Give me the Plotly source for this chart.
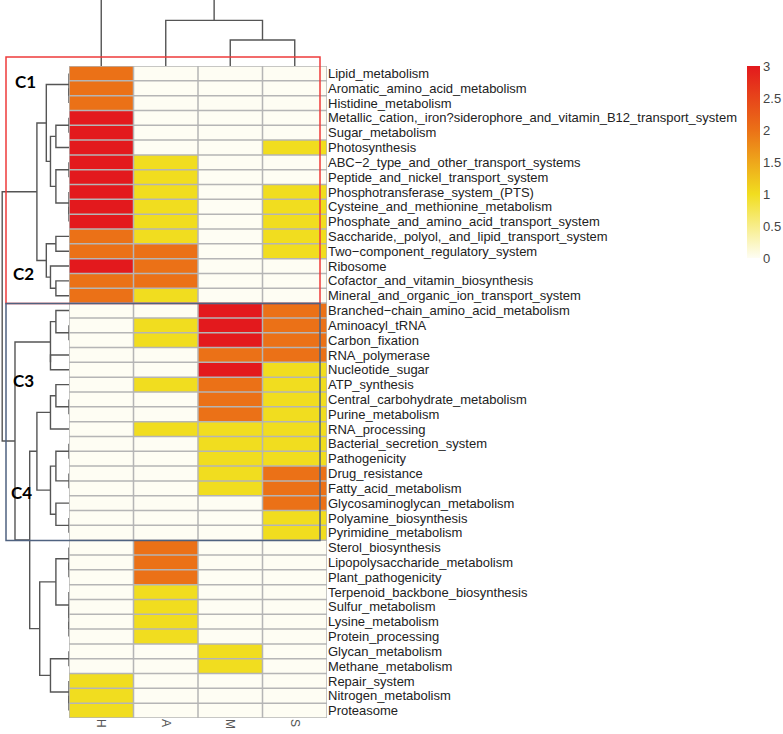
import numpy as np
import plotly.graph_objects as go

# ---------------- data ----------------
columns = ["H", "A", "M", "S"]
pathways = [
    "Lipid_metabolism", "Aromatic_amino_acid_metabolism", "Histidine_metabolism",
    "Metallic_cation,_iron?siderophore_and_vitamin_B12_transport_system",
    "Sugar_metabolism", "Photosynthesis", "ABC\u22122_type_and_other_transport_systems",
    "Peptide_and_nickel_transport_system", "Phosphotransferase_system_(PTS)",
    "Cysteine_and_methionine_metabolism", "Phosphate_and_amino_acid_transport_system",
    "Saccharide,_polyol,_and_lipid_transport_system", "Two\u2212component_regulatory_system",
    "Ribosome", "Cofactor_and_vitamin_biosynthesis", "Mineral_and_organic_ion_transport_system",
    "Branched\u2212chain_amino_acid_metabolism", "Aminoacyl_tRNA", "Carbon_fixation",
    "RNA_polymerase", "Nucleotide_sugar", "ATP_synthesis", "Central_carbohydrate_metabolism",
    "Purine_metabolism", "RNA_processing", "Bacterial_secretion_system", "Pathogenicity",
    "Drug_resistance", "Fatty_acid_metabolism", "Glycosaminoglycan_metabolism",
    "Polyamine_biosynthesis", "Pyrimidine_metabolism", "Sterol_biosynthesis",
    "Lipopolysaccharide_metabolism", "Plant_pathogenicity", "Terpenoid_backbone_biosynthesis",
    "Sulfur_metabolism", "Lysine_metabolism", "Protein_processing", "Glycan_metabolism",
    "Methane_metabolism", "Repair_system", "Nitrogen_metabolism", "Proteasome",
]
H = [2, 2, 2, 3, 3, 3, 3, 3, 3, 3, 3, 2, 2, 3, 2, 2,
     0, 0, 0, 0, 0, 0, 0, 0, 0, 0, 0, 0, 0, 0, 0, 0,
     0, 0, 0, 0, 0, 0, 0, 0, 0, 1, 1, 1]
A = [0, 0, 0, 0, 0, 0, 1, 1, 1, 1, 1, 1, 2, 2, 2, 1,
     0, 1, 1, 0, 0, 1, 0, 0, 1, 0, 0, 0, 0, 0, 0, 0,
     2, 2, 2, 1, 1, 1, 1, 0, 0, 0, 0, 0]
M = [0, 0, 0, 0, 0, 0, 0, 0, 0, 0, 0, 0, 0, 0, 0, 0,
     3, 3, 3, 2, 3, 2, 2, 2, 1, 1, 1, 1, 1, 0, 0, 0,
     0, 0, 0, 0, 0, 0, 0, 1, 1, 0, 0, 0]
S = [0, 0, 0, 0, 0, 1, 0, 0, 1, 1, 1, 1, 1, 0, 0, 0,
     2, 2, 2, 2, 1, 1, 1, 1, 1, 1, 1, 2, 2, 2, 1, 1,
     0, 0, 0, 0, 0, 0, 0, 0, 0, 0, 0, 0]
colorbar_ticks = [0, 0.5, 1, 1.5, 2, 2.5, 3]
cluster_labels = ["C1", "C2", "C3", "C4"]

Z = np.array([H, A, M, S], dtype=float).T  # rows x columns
n_rows, n_cols = Z.shape

# ---------------- geometry (pixels) ----------------
W, HGT = 783, 734
hm_left, hm_right, hm_top, hm_bot = 69, 327, 66, 718
def px(x): return x / W
def py(y): return 1 - y / HGT

# ---------------- clustering (complete linkage, euclidean) ----------------
def dendro_segments(X):
    D = np.sqrt(((X[:, None, :] - X[None, :, :]) ** 2).sum(-1))
    cl = [dict(m=[i], pos=float(i), h=0.0) for i in range(len(X))]
    segs = []
    while len(cl) > 1:
        best = None
        for k in range(len(cl) - 1):
            d = D[np.ix_(cl[k]["m"], cl[k + 1]["m"])].max()
            if best is None or d <= best[0] + 1e-9:
                best = (d, k)
        d, k = best
        a, b = cl[k], cl[k + 1]
        segs.append([(a["h"], a["pos"]), (d, a["pos"]), (d, b["pos"]), (b["h"], b["pos"])])
        cl[k:k + 2] = [dict(m=a["m"] + b["m"], pos=(a["pos"] + b["pos"]) / 2, h=d)]
    return segs

row_segs = dendro_segments(Z)
col_segs = dendro_segments(Z.T)

fig = go.Figure()

colorscale = [[0.0, "#FEFDF3"], [1 / 3, "#F1DD1F"], [2 / 3, "#EB7117"], [1.0, "#E3191D"]]
fig.add_trace(go.Heatmap(
    z=Z, x=list(range(n_cols)), y=list(range(n_rows)), zmin=0, zmax=3,
    colorscale=colorscale, hoverinfo="skip",
    colorbar=dict(
        x=px(747), xanchor="left", y=py(66), yanchor="top",
        len=192, lenmode="pixels", thickness=13, thicknessmode="pixels",
        xpad=0, ypad=0,
        outlinewidth=0, ticks="", tickvals=colorbar_ticks,
        ticktext=[f"{t:g}" for t in colorbar_ticks],
        tickfont=dict(family="Liberation Sans, Arial", size=13, color="#444"),
    ),
))

# grid lines
gx, gy = [], []
for r in range(n_rows + 1):
    gx += [-0.5, n_cols - 0.5, None]; gy += [r - 0.5, r - 0.5, None]
for c in range(n_cols + 1):
    gx += [c - 0.5, c - 0.5, None]; gy += [-0.5, n_rows - 0.5, None]
fig.add_trace(go.Scatter(x=gx, y=gy, mode="lines", line=dict(color="#B5B5B5", width=1.5),
                         hoverinfo="skip", showlegend=False))

# row dendrogram
dx, dy = [], []
for s in row_segs:
    for (h, p) in s:
        dx.append(h); dy.append(p)
    dx.append(None); dy.append(None)
fig.add_trace(go.Scatter(x=dx, y=dy, xaxis="x2", yaxis="y", mode="lines",
                         line=dict(color="#555555", width=1.4), hoverinfo="skip", showlegend=False))

# column dendrogram
cx, cy = [], []
for s in col_segs:
    for (h, p) in s:
        cx.append(p); cy.append(h)
    cx.append(None); cy.append(None)
fig.add_trace(go.Scatter(x=cx, y=cy, xaxis="x", yaxis="y3", mode="lines",
                         line=dict(color="#555555", width=1.4), hoverinfo="skip", showlegend=False))

row_scale = 13.1  # px per distance unit
col_scale = 5.1

fig.update_layout(
    width=W, height=HGT, margin=dict(l=0, r=0, t=0, b=0, autoexpand=False),
    paper_bgcolor="white", plot_bgcolor="white", showlegend=False,
    xaxis=dict(domain=[px(hm_left), px(hm_right)], range=[-0.5, n_cols - 0.5],
               tickvals=list(range(n_cols)), ticktext=columns, tickangle=90,
               showgrid=False, zeroline=False, ticks="", showline=False, automargin=False,
               tickfont=dict(family="Liberation Sans, Arial", size=12, color="#555"),
               anchor="y", fixedrange=True),
    yaxis=dict(domain=[py(hm_bot), py(hm_top)], range=[n_rows - 0.5, -0.5],
               tickvals=list(range(n_rows)), ticktext=pathways, side="right",
               showgrid=False, zeroline=False, ticks="", showline=False, automargin=False,
               tickfont=dict(family="Liberation Sans, Arial", size=13, color="#222"),
               anchor="x", fixedrange=True),
    xaxis2=dict(domain=[0, px(hm_left)], range=[hm_left / row_scale, 0],
                visible=False, anchor="y", fixedrange=True),
    yaxis3=dict(domain=[py(hm_top), 1], range=[0, hm_top / col_scale],
                visible=False, anchor="x", fixedrange=True),
)

# cluster boxes
fig.add_shape(type="rect", xref="paper", yref="paper", x0=px(6), x1=px(320), y0=py(57), y1=py(303.5),
              line=dict(color="#EE3B3B", width=1.5))
fig.add_shape(type="rect", xref="paper", yref="paper", x0=px(6), x1=px(320), y0=py(303.5), y1=py(540.5),
              line=dict(color="#4F6280", width=1.5))

label_pos = [(25, 82), (23, 273), (23, 380), (21, 492)]
for lab, (lx, ly) in zip(cluster_labels, label_pos):
    fig.add_annotation(text=f"<b>{lab}</b>", x=px(lx), y=py(ly), xref="paper", yref="paper",
                       xanchor="center", yanchor="middle",
                       showarrow=False, font=dict(family="Lato, Liberation Sans", size=17, color="black"))

fig.write_html("out.html", config={"displayModeBar": False},
               post_script="document.body.style.margin='0px';")
